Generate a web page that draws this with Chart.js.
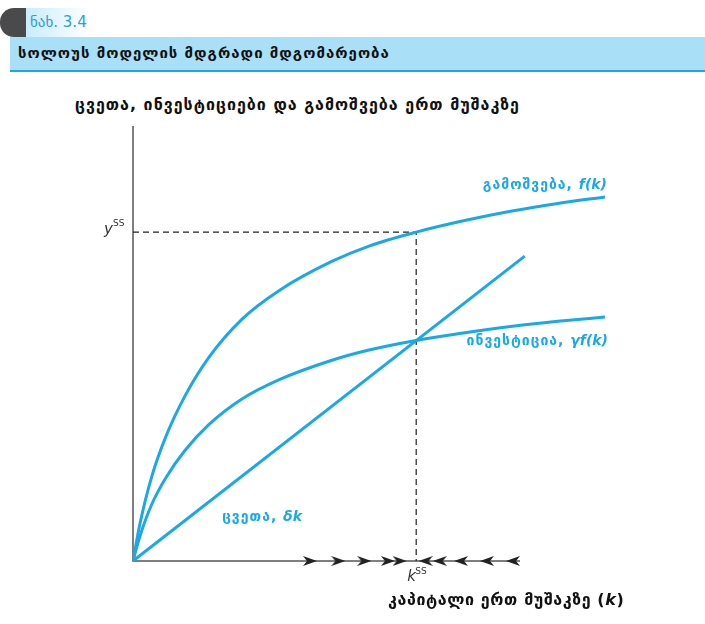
<!DOCTYPE html>
<html>
<head>
<meta charset="utf-8">
<script src="https://cdn.jsdelivr.net/npm/chart.js@4.4.1/dist/chart.umd.min.js"></script>
<style>
    body { margin: 0; background: #fff; font-family: 'DejaVu Sans', sans-serif; }
    #wrap { position: relative; width: 705px; height: 624px; overflow: hidden; }
    #chart { position: absolute; left: 0; top: 0; }
    .dot { position: absolute; left: 0; top: 8px; width: 26px; height: 29px; background: #4a4a4c; border-top-left-radius: 14px; border-bottom-left-radius: 14px; }
    .fig { position: absolute; left: 26px; top: 8px; width: 64px; height: 29px; background: linear-gradient(90deg, #c9ecfb, #ffffff); color: #2a9fd8; font-size: 15px; line-height: 29px; padding-left: 4px; box-sizing: border-box; white-space: nowrap; }
    .band { position: absolute; left: 10px; top: 37px; width: 695px; height: 35px; background: #a9dff7; border-bottom: 2px solid #1ba8e5; box-sizing: border-box; }
    .band span { position: absolute; left: 8px; top: 7px; font-weight: bold; font-size: 15px; letter-spacing: 1px; color: #111; }
    .title { position: absolute; left: 75px; top: 95px; font-weight: bold; font-size: 16px; letter-spacing: 1px; color: #111; white-space: nowrap; }
    .xlabel { position: absolute; left: 388px; top: 590px; font-weight: bold; font-size: 16px; letter-spacing: 0.6px; color: #111; white-space: nowrap; }
</style>
</head>
<body>
<div id="wrap">
    <div class="dot"></div>
    <div class="fig">ნახ. 3.4</div>
    <div class="band"><span>სოლოუს მოდელის მდგრადი მდგომარეობა</span></div>
    <div class="title">ცვეთა, ინვესტიციები და გამოშვება ერთ მუშაკზე</div>
    <canvas id="chart" width="705" height="624"></canvas>
    <div class="xlabel">კაპიტალი ერთ მუშაკზე (<i>k</i>)</div>
</div>
<script>
// capital per worker (x) and the three curves
const kValues = [0, 0.15, 0.4, 0.7, 1.1, 1.6, 2.3, 3.1, 4.2, 5.0, 6.0, 7.0, 8.0, 9.0, 10.0];
const outputValues = [0, 0.87, 1.95, 2.87, 3.79, 4.67, 5.55, 6.22, 6.88, 7.24, 7.56, 7.82, 8.04, 8.22, 8.37];
const investmentValues = [0, 0.58, 1.31, 1.92, 2.54, 3.13, 3.72, 4.17, 4.61, 4.85, 5.07, 5.24, 5.39, 5.51, 5.61];
const deprK = [0, 8.3];
const deprValues = [0, 7.01];

const kSS = 6.0;
const ySS = 7.56;
const xAxisEnd = 8.2;
const rightArrows = [3.75, 4.35, 4.9, 5.4, 5.65];
const leftArrows = [6.2, 6.5, 6.95, 7.5, 8.05];

const BLUE = '#1ba8e5';

function makeArrow(dir) {
    const c = document.createElement('canvas');
    c.width = 14; c.height = 10;
    const g = c.getContext('2d');
    g.fillStyle = '#222';
    g.beginPath();
    if (dir > 0) {
        g.moveTo(14, 5); g.lineTo(0, 0); g.lineTo(4, 5); g.lineTo(0, 10);
    } else {
        g.moveTo(0, 5); g.lineTo(14, 0); g.lineTo(10, 5); g.lineTo(14, 10);
    }
    g.closePath();
    g.fill();
    return c;
}

function pts(xs, ys) {
    return xs.map((x, i) => ({ x: x, y: ys[i] }));
}

function label(ctx, geo, math, xRight, y) {
    ctx.font = 'bold 14px "DejaVu Sans"';
    ctx.letterSpacing = '1px';
    const w1 = ctx.measureText(geo).width;
    ctx.font = 'bold italic 14px "DejaVu Sans"';
    ctx.letterSpacing = '0px';
    const w2 = ctx.measureText(math).width;
    const x = xRight - w1 - w2;
    ctx.textAlign = 'left';
    ctx.font = 'bold 14px "DejaVu Sans"';
    ctx.letterSpacing = '1px';
    ctx.fillText(geo, x, y);
    ctx.font = 'bold italic 14px "DejaVu Sans"';
    ctx.letterSpacing = '0px';
    ctx.fillText(math, x + w1, y);
}

const decorPlugin = {
    id: 'decor',
    beforeDatasetsDraw(chart) {
        const ctx = chart.ctx;
        const xs = chart.scales.x, ys = chart.scales.y;
        const x0 = xs.getPixelForValue(0), y0 = ys.getPixelForValue(0);
        ctx.save();
        // axes
        ctx.strokeStyle = '#555';
        ctx.lineWidth = 1.5;
        ctx.beginPath();
        ctx.moveTo(x0, ys.getPixelForValue(10));
        ctx.lineTo(x0, y0);
        ctx.lineTo(xs.getPixelForValue(xAxisEnd), y0);
        ctx.stroke();
        // steady state guides
        const px = xs.getPixelForValue(kSS), py = ys.getPixelForValue(ySS);
        ctx.strokeStyle = '#222';
        ctx.lineWidth = 1.2;
        ctx.setLineDash([6, 4]);
        ctx.beginPath();
        ctx.moveTo(x0, py); ctx.lineTo(px, py);
        ctx.lineTo(px, y0);
        ctx.stroke();
        ctx.restore();
    },
    afterDatasetsDraw(chart) {
        const ctx = chart.ctx;
        const xs = chart.scales.x, ys = chart.scales.y;
        ctx.save();
        // curve labels
        ctx.fillStyle = BLUE;
        ctx.textBaseline = 'middle';
        label(ctx, 'გამოშვება, ', 'f(k)', 607, 185);
        label(ctx, 'ინვესტიცია, ', 'γf(k)', 608, 341);
        label(ctx, 'ცვეთა, ', 'δk', 302, 517);
        // steady state tick labels
        ctx.letterSpacing = '0px';
        ctx.fillStyle = '#333';
        ctx.font = 'italic 15px "DejaVu Sans"';
        const py = ys.getPixelForValue(ySS);
        const px = xs.getPixelForValue(kSS);
        ctx.textAlign = 'left';
        ctx.fillText('y', 104, py - 2);
        ctx.font = '9px "DejaVu Sans"';
        ctx.fillText('SS', 113, py - 8);
        ctx.font = 'italic 15px "DejaVu Sans"';
        ctx.fillText('k', px - 9, ys.getPixelForValue(0) + 16);
        ctx.font = '9px "DejaVu Sans"';
        ctx.fillText('SS', px - 1, ys.getPixelForValue(0) + 11);
        ctx.restore();
    }
};

new Chart(document.getElementById('chart'), {
    type: 'scatter',
    data: {
        datasets: [
            { data: pts(kValues, outputValues), showLine: true, borderColor: BLUE, borderWidth: 3, pointRadius: 0, cubicInterpolationMode: 'monotone' },
            { data: pts(kValues, investmentValues), showLine: true, borderColor: BLUE, borderWidth: 3, pointRadius: 0, cubicInterpolationMode: 'monotone' },
            { data: pts(deprK, deprValues), showLine: true, borderColor: BLUE, borderWidth: 3, pointRadius: 0 },
            { data: rightArrows.map(x => ({ x: x, y: 0 })), pointStyle: makeArrow(1), pointRadius: 7, clip: false },
            { data: leftArrows.map(x => ({ x: x, y: 0 })), pointStyle: makeArrow(-1), pointRadius: 7, clip: false }
        ]
    },
    options: {
        responsive: false,
        animation: false,
        layout: { autoPadding: false, padding: { left: 133, right: 100, top: 126, bottom: 63 } },
        plugins: { legend: { display: false }, tooltip: { enabled: false } },
        scales: {
            x: { type: 'linear', min: 0, max: 10, display: false },
            y: { min: 0, max: 10, display: false }
        }
    },
    plugins: [decorPlugin]
});
</script>
</body>
</html>
